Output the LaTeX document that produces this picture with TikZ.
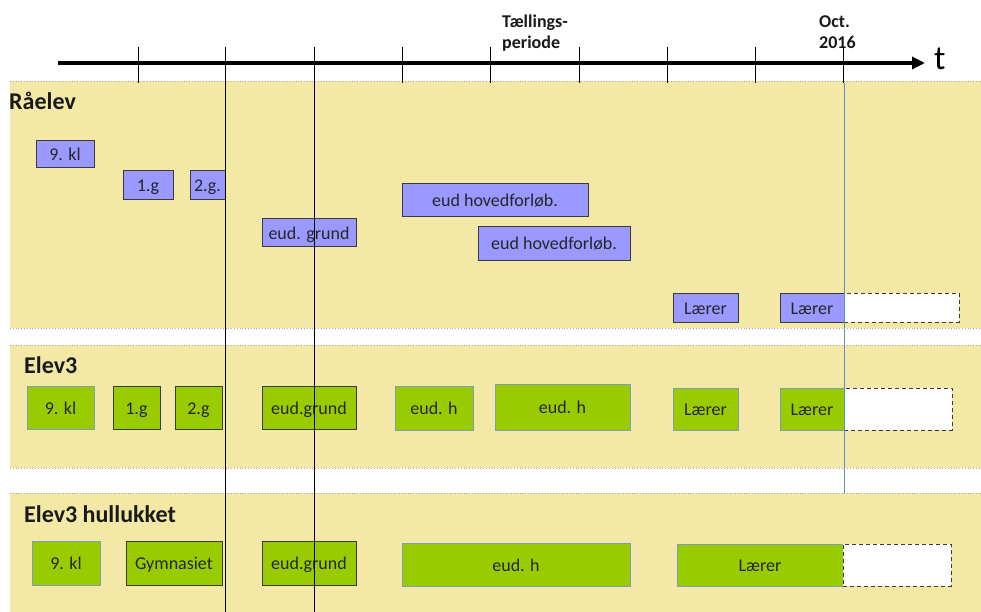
\documentclass[tikz,border=0pt]{standalone}
\usepackage{fontspec}
\setmainfont{Carlito}
\usetikzlibrary{arrows.meta}
\definecolor{bandc}{HTML}{F3E8A5}
\definecolor{purp}{HTML}{9999FF}
\definecolor{grn}{HTML}{99CC00}
\definecolor{bdark}{HTML}{3A3A3A}
\definecolor{bblue}{HTML}{7F9CBF}
\definecolor{vblue}{HTML}{5B8FD0}
\definecolor{edgec}{HTML}{A8A8A8}
\newcommand\tbox[7]{%
  \node[#1, minimum width={(#5-#3)*1pt}, minimum height={(#6-#4)*1pt}] (#2) at ({(#3+#5)/2},{(#4+#6)/2}) {#7};}
\begin{document}
\begin{tikzpicture}[x=1pt,y=-1pt,
  bandedge/.style={draw=edgec, line width=0.8pt, dotted},
  boxbase/.style={inner sep=0pt, outer sep=0pt, line width=1pt, font=\fontsize{18}{21}\selectfont, text height=16.5pt, text depth=3.5pt, text=black!85},
  pbox/.style={boxbase, fill=purp, draw=bdark},
  gdark/.style={boxbase, fill=grn, draw=bdark},
  gblue/.style={boxbase, fill=grn, draw=bblue},
  openbox/.style={boxbase, fill=white, draw=bdark, dash pattern=on 4pt off 3pt},
  title/.style={font=\fontsize{24}{28}\selectfont\bfseries, anchor=base west, inner sep=0pt, text=black!90},
  axlabel/.style={font=\fontsize{18}{21}\selectfont\bfseries, anchor=base west, inner sep=0pt, text=black!90},
  tickline/.style={line width=1pt, black},
  ]
\useasboundingbox (0,0) rectangle (981,612);
% bands
\fill[bandc] (10,81) rectangle (981,328);
\fill[bandc] (10,345) rectangle (981,468);
\fill[bandc] (10,493) rectangle (981,612);
\draw[bandedge] (10,81) -- (981,81);
\draw[bandedge] (10,328) -- (981,328);
\draw[bandedge] (10,345) -- (981,345);
\draw[bandedge] (10,468) -- (981,468);
\draw[bandedge] (10,493) -- (981,493);
% axis
\coordinate (axs) at (58,63);
\coordinate (axe) at (925,63);
\draw[line width=3.5pt, -{Triangle[length=13pt,width=12pt]}] (axs) -- (axe);
\foreach \x in {138,402,490,579,667,755,843} {
  \draw[tickline] (\x,47) -- (\x,83);
}
\node[axlabel] (tl1) at (502,28) {Tællings-};
\node[axlabel] (tl2) at (502,49) {periode};
\node[axlabel] (oc1) at (819,28) {Oct.};
\node[axlabel] (oc2) at (819,49) {2016};
\node[font=\fontsize{34}{40}\selectfont, anchor=base west, inner sep=0pt] (tlab) at (934,70) {t};
% titles
\node[title] (ttl1) at (9,110) {Råelev};
\node[title] (ttl2) at (24,373) {Elev3};
\node[title] (ttl3) at (24,522) {Elev3 hullukket};
% Raaelev boxes
\tbox{pbox}{r9}{36}{141}{94}{168}{9. kl}
\tbox{pbox}{r1g}{123}{171}{173}{200}{1.g}
\tbox{pbox}{r2g}{190}{171}{225}{200}{2.g.}
\tbox{pbox}{rgr}{262}{219}{356}{246}{eud. grund}
\tbox{pbox}{rh1}{402}{184}{588}{217}{eud hovedforløb.}
\tbox{pbox}{rh2}{478}{226}{630}{260}{eud hovedforløb.}
\tbox{pbox}{rl1}{673}{293}{738}{322}{Lærer}
\tbox{pbox}{rl2}{780}{293}{844}{322}{Lærer}
\tbox{openbox}{rop}{844}{293}{959}{322}{}
% Elev3 boxes
\tbox{gblue}{e9}{27}{386}{94}{429}{9. kl}
\tbox{gdark}{e1g}{113}{386}{160}{429}{1.g}
\tbox{gdark}{e2g}{175}{386}{222}{429}{2.g}
\tbox{gdark}{egr}{262}{386}{356}{429}{eud.grund}
\tbox{gblue}{eh1}{395}{386}{473}{430}{eud. h}
\tbox{gblue}{eh2}{495}{384}{630}{430}{eud. h}
\tbox{gblue}{el1}{673}{388}{738}{430}{Lærer}
\tbox{gblue}{el2}{780}{388}{844}{430}{Lærer}
\tbox{openbox}{eop}{844}{388}{952}{430}{}
% Elev3 hullukket boxes
\tbox{gblue}{h9}{32}{541}{100}{585}{9. kl}
\tbox{gdark}{hgy}{126}{541}{222}{585}{Gymnasiet}
\tbox{gdark}{hgr}{262}{541}{356}{585}{eud.grund}
\tbox{gblue}{hh}{402}{543}{630}{586}{eud. h}
\tbox{gblue}{hl}{677}{544}{843}{586}{Lærer}
\tbox{openbox}{hop}{843}{544}{951}{586}{}
% long vertical lines
\draw[tickline] (225,47) -- (225,612);
\draw[tickline] (314,47) -- (314,612);
\draw[vblue, line width=1pt] (844,83) -- (844,493);
\end{tikzpicture}
\end{document}
